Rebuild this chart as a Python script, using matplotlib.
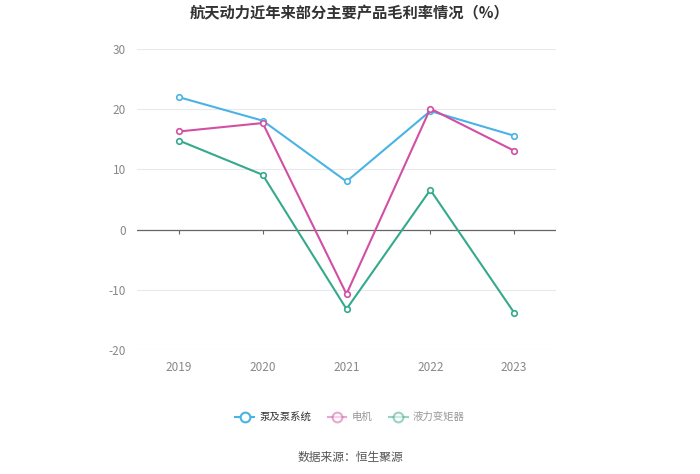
import matplotlib.pyplot as plt
from matplotlib.lines import Line2D

plt.rcParams['font.family'] = ['Noto Sans CJK SC', 'DejaVu Sans']
plt.rcParams['axes.unicode_minus'] = False

years = ['2019', '2020', '2021', '2022', '2023']
pump = [22.0, 18.1, 8.0, 19.7, 15.6]
motor = [16.3, 17.7, -10.7, 20.1, 13.1]
converter = [14.8, 9.1, -13.2, 6.6, -13.8]

names = ['泵及泵系统', '电机', '液力变矩器']
colors = ['#4ab3e6', '#d24fa4', '#35a98b']

fig = plt.figure(figsize=(7, 4.74), dpi=100)
ax = fig.add_axes([0.1957, 0.2616, 0.5986, 0.635])

x = list(range(len(years)))
for vals, c in zip([pump, motor, converter], colors):
    ax.plot(x, vals, color=c, lw=1.5, marker='o', ms=4, mfc='white',
            mec=c, mew=1.2, zorder=3)

ax.set_xlim(-0.5, len(years) - 0.5)
ax.set_ylim(-20, 30)
ax.set_yticks([-20, -10, 0, 10, 20, 30])
ax.set_xticks(x)
ax.set_xticklabels(years)
ax.tick_params(axis='both', length=0, colors='#888888', labelsize=8.5)
ax.tick_params(axis='y', pad=8)
ax.tick_params(axis='x', pad=8)
for s in ax.spines.values():
    s.set_visible(False)
ax.grid(axis='y', color='#e8e8ee', lw=0.8)
ax.set_axisbelow(True)
ax.axhline(0, color='#666666', lw=0.9, zorder=2)
ax.vlines(x, -0.8, 0, color='#666666', lw=0.8, zorder=2)

handles = [Line2D([], [], color=c, lw=1.5, marker='o', ms=7, mfc='white',
                  mec=c, mew=1.5, alpha=a)
           for c, a in zip(colors, [1, 0.5, 0.5])]
leg = fig.legend(handles, names, loc='center', bbox_to_anchor=(0.5, 0.12),
                 ncol=3, frameon=False, fontsize=7.5, handlelength=1.8,
                 columnspacing=1.6, handletextpad=0.5)
for t, tc in zip(leg.get_texts(), ['#333333', '#999999', '#999999']):
    t.set_color(tc)

fig.text(0.5, 0.972, '航天动力近年来部分主要产品毛利率情况（%）', ha='center',
         va='center', fontsize=11, fontweight='bold', color='#333333')
fig.text(0.5, 0.034, '数据来源：恒生聚源', ha='center', va='center',
         fontsize=8.5, color='#555555')

fig.savefig('out.png', dpi=100)
